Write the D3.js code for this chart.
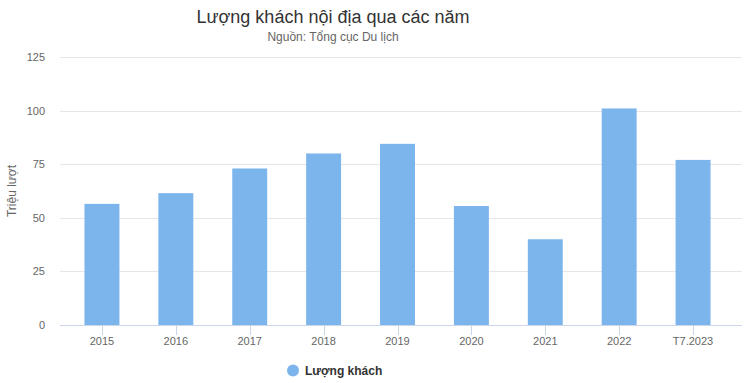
<!DOCTYPE html>
<html><head><meta charset="utf-8">
<script src="https://cdn.jsdelivr.net/npm/d3@7"></script>
<style>
body{margin:0;background:#fff;font-family:"Liberation Sans",Arial,sans-serif;}
svg{display:block;}
</style></head>
<body><svg id="c" width="747" height="383"></svg>
<script>
const categories = ["2015","2016","2017","2018","2019","2020","2021","2022","T7.2023"];
const values = [56.5, 61.5, 73, 80, 84.5, 55.5, 40, 101, 77];
const yTicks = [0, 25, 50, 75, 100, 125];
const seriesName = "Lượng khách";
const titleText = "Lượng khách nội địa qua các năm";
const subtitleText = "Nguồn: Tổng cục Du lịch";
const yTitle = "Triệu lượt";

const svg = d3.select("#c");
const gridLeft = 60, gridRight = 742;
const x = d3.scaleBand().domain(categories).range([65, 730]).paddingInner(0.527).paddingOuter(0.2635);
const y = d3.scaleLinear().domain([0, 125]).range([325, 57]);

// gridlines
svg.append("g").selectAll("line").data(yTicks.filter(d => d > 0)).join("line")
  .attr("x1", gridLeft).attr("x2", gridRight)
  .attr("y1", d => Math.round(y(d)) + 0.5).attr("y2", d => Math.round(y(d)) + 0.5)
  .attr("stroke", "#e6e6e6").attr("stroke-width", 1);

// y labels
svg.append("g").selectAll("text").data(yTicks).join("text")
  .attr("x", 45).attr("y", d => y(d) + 4)
  .attr("text-anchor", "end").attr("font-size", 11).attr("fill", "#666")
  .text(d => d);

// bars
svg.append("g").selectAll("rect").data(values).join("rect")
  .attr("x", (d, i) => x(categories[i]))
  .attr("width", x.bandwidth())
  .attr("y", d => y(d))
  .attr("height", d => y(0) - y(d))
  .attr("fill", "#7cb5ec");

// x axis line
svg.append("line").attr("x1", gridLeft).attr("x2", gridRight)
  .attr("y1", 325.5).attr("y2", 325.5).attr("stroke", "#ccd6eb");
// ticks
svg.append("g").selectAll("line").data(categories).join("line")
  .attr("x1", d => Math.round(x(d) + x.bandwidth() / 2) + 0.5)
  .attr("x2", d => Math.round(x(d) + x.bandwidth() / 2) + 0.5)
  .attr("y1", 325).attr("y2", 335).attr("stroke", "#ccd6eb");
svg.append("g").selectAll("text").data(categories).join("text")
  .attr("x", d => x(d) + x.bandwidth() / 2).attr("y", 345)
  .attr("text-anchor", "middle").attr("font-size", 11).attr("fill", "#666")
  .text(d => d);

// titles
svg.append("text").attr("x", 333).attr("y", 23).attr("text-anchor", "middle")
  .attr("font-size", 18).attr("fill", "#333").text(titleText);
svg.append("text").attr("x", 333).attr("y", 41).attr("text-anchor", "middle")
  .attr("font-size", 12).attr("fill", "#666").text(subtitleText);

// y title
svg.append("text").attr("transform", "translate(16,191) rotate(-90)")
  .attr("text-anchor", "middle").attr("font-size", 12).attr("fill", "#666").text(yTitle);

// legend
svg.append("circle").attr("cx", 293).attr("cy", 370.5).attr("r", 6).attr("fill", "#7cb5ec");
svg.append("text").attr("x", 305).attr("y", 375).attr("font-size", 12).attr("font-weight", "bold")
  .attr("fill", "#333").text(seriesName);
</script></body></html>
